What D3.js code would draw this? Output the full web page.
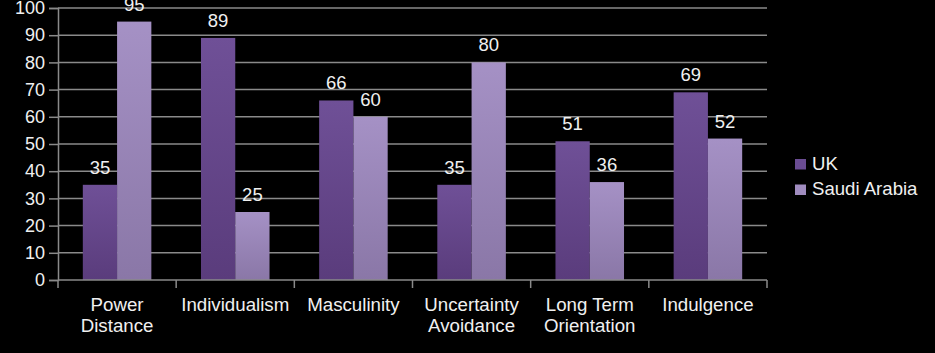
<!DOCTYPE html>
<html><head><meta charset="utf-8">
<script src="https://cdn.jsdelivr.net/npm/d3@7"></script>
<style>body{margin:0;background:#000;}svg{display:block;}</style>
</head><body>
<svg id="c" width="935" height="353"></svg>
<script>
const categories = [["Power","Distance"],["Individualism"],["Masculinity"],["Uncertainty","Avoidance"],["Long Term","Orientation"],["Indulgence"]];
const seriesNames = ["UK","Saudi Arabia"];
const ukValues = [35,89,66,35,51,69];
const saudiValues = [95,25,60,80,36,52];
const yTicks = [0,10,20,30,40,50,60,70,80,90,100];

(function(){
const svg = d3.select("#c");
svg.append("rect").attr("width",935).attr("height",353).attr("fill","#000");
const defs = svg.append("defs");
const grads = [["gUK","#6f5097","#5a3c7c"],["gSA","#a591c5","#8a77a7"]];
grads.forEach(([id,t,b])=>{
  const g = defs.append("linearGradient").attr("id",id).attr("x1",0).attr("y1",0).attr("x2",0).attr("y2",1);
  g.append("stop").attr("offset","0%").attr("stop-color",t);
  g.append("stop").attr("offset","100%").attr("stop-color",b);
});
const legendColors = ["#6a4c92","#a08cbf"];

const mLeft=58, mRight=767, mTop=8, mBottom=280;
const x0 = d3.scaleBand().domain(d3.range(categories.length)).range([mLeft,mRight]);
const x1 = d3.scaleBand().domain([0,1]).range([x0.bandwidth()*0.21, x0.bandwidth()*0.79]);
const y = d3.scaleLinear().domain([0,100]).range([mBottom,mTop]);

const font = "Liberation Sans, Arial, sans-serif";
const txt = "#f0f0f0";
svg.append("g").selectAll("line").data(yTicks.filter(d=>d>0)).join("line")
  .attr("x1",mLeft).attr("x2",mRight).attr("y1",d=>y(d)).attr("y2",d=>y(d))
  .attr("stroke","#8a8a8a").attr("stroke-width",1.5);

const yAxis = svg.append("g").attr("transform",`translate(${mLeft},0)`)
  .call(d3.axisLeft(y).tickValues(yTicks).tickSize(9).tickPadding(4));
yAxis.select(".domain").attr("stroke","#8a8a8a").attr("stroke-width",1.5);
yAxis.selectAll(".tick line").attr("stroke","#8a8a8a").attr("stroke-width",1.5);
yAxis.selectAll("text").attr("fill",txt).attr("font-size",18).attr("font-family",font);

const series = [ukValues,saudiValues];
const gIds = ["gUK","gSA"];
series.forEach((vals,si)=>{
  svg.append("g").selectAll("rect").data(vals).join("rect")
    .attr("x",(d,i)=>x0(i)+x1(si)).attr("width",x1.bandwidth())
    .attr("y",d=>y(d)).attr("height",d=>y(0)-y(d))
    .attr("fill",`url(#${gIds[si]})`);
  svg.append("g").selectAll("text").data(vals).join("text")
    .attr("x",(d,i)=>x0(i)+x1(si)+x1.bandwidth()/2).attr("y",d=>y(d)-11)
    .attr("text-anchor","middle").attr("fill",txt).attr("font-size",18.5).attr("font-family",font)
    .text(d=>d);
});

const xg = svg.append("g");
xg.append("line").attr("x1",mLeft).attr("x2",mRight).attr("y1",mBottom).attr("y2",mBottom)
  .attr("stroke","#8a8a8a").attr("stroke-width",1.5);
xg.selectAll("line.t").data(d3.range(categories.length+1)).join("line").attr("class","t")
  .attr("x1",i=>i<categories.length?x0(i):mRight).attr("x2",i=>i<categories.length?x0(i):mRight)
  .attr("y1",mBottom).attr("y2",mBottom+8).attr("stroke","#8a8a8a").attr("stroke-width",1.5);
categories.forEach((lines,i)=>{
  const cx = x0(i)+x0.bandwidth()/2;
  const t = xg.append("text").attr("x",cx).attr("y",311)
    .attr("text-anchor","middle").attr("fill",txt).attr("font-size",18.7).attr("font-family",font);
  lines.forEach((l,j)=>t.append("tspan").attr("x",cx).attr("dy",j?21:0).text(l));
});

seriesNames.forEach((n,i)=>{
  const base = 169.5 + i*25.5;
  svg.append("rect").attr("x",795).attr("y",base-10.5).attr("width",11).attr("height",10.5).attr("fill",legendColors[i]);
  svg.append("text").attr("x",812).attr("y",base).attr("fill",txt).attr("font-size",18.6).attr("font-family",font).text(n);
});
})();
</script>
</body></html>
